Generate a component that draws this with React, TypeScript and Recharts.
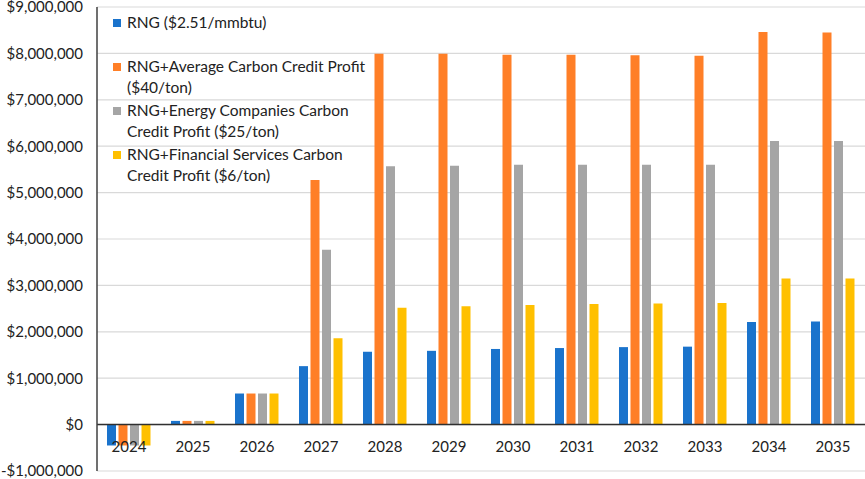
import { BarChart, Bar, XAxis, YAxis, CartesianGrid, ReferenceLine } from 'recharts'

const years = ['2024', '2025', '2026', '2027', '2028', '2029', '2030', '2031', '2032', '2033', '2034', '2035']

const rng = [-450000, 80000, 670000, 1260000, 1570000, 1590000, 1630000, 1650000, 1670000, 1680000, 2210000, 2220000]
const rngAvg = [-450000, 80000, 670000, 5270000, 7990000, 7990000, 7970000, 7970000, 7960000, 7950000, 8460000, 8450000]
const rngEnergy = [-450000, 80000, 670000, 3770000, 5570000, 5580000, 5600000, 5600000, 5600000, 5600000, 6110000, 6110000]
const rngFinance = [-450000, 80000, 670000, 1860000, 2520000, 2550000, 2580000, 2600000, 2610000, 2620000, 3150000, 3150000]

const yTicks = [-1000000, 0, 1000000, 2000000, 3000000, 4000000, 5000000, 6000000, 7000000, 8000000, 9000000]

const SERIES = [
  { key: 'rng', label: 'RNG ($2.51/mmbtu)', color: '#1a73cc' },
  { key: 'avg', label: 'RNG+Average Carbon Credit Profit ($40/ton)', color: '#ff7f27' },
  { key: 'energy', label: 'RNG+Energy Companies Carbon Credit Profit ($25/ton)', color: '#a5a5a5' },
  { key: 'finance', label: 'RNG+Financial Services Carbon Credit Profit ($6/ton)', color: '#ffc000' },
]

const data = years.map((year, i) => ({
  year,
  rng: rng[i],
  avg: rngAvg[i],
  energy: rngEnergy[i],
  finance: rngFinance[i],
}))

const FONT = 'Lato, "Open Sans", sans-serif'

function fmtMoney(v: number) {
  const s = '$' + Math.abs(v).toLocaleString('en-US')
  return v < 0 ? '-' + s : s
}

// year labels sit just under the zero line, not at the bottom of the plot
function YearTick({ x, y, payload }: any) {
  return (
    <text x={x} y={y - 19} textAnchor="middle" fill="#222" fontSize={15} fontFamily={FONT}>
      {payload.value}
    </text>
  )
}

function LegendBox() {
  return (
    <div
      style={{
        position: 'absolute',
        left: 113,
        top: 12,
        width: 266,
        fontFamily: FONT,
        fontSize: 15.5,
        color: '#222',
        lineHeight: '21px',
      }}
    >
      {SERIES.map((s) => (
        <div key={s.key} style={{ display: 'flex', alignItems: 'flex-start', minHeight: 44 }}>
          <span
            style={{
              display: 'inline-block',
              width: 8,
              height: 8,
              background: s.color,
              marginTop: 7,
              marginRight: 6,
              flexShrink: 0,
            }}
          />
          <span>{s.label}</span>
        </div>
      ))}
    </div>
  )
}

export default function App() {
  return (
    <div style={{ position: 'absolute', left: 0, top: 0, width: 865, height: 479, background: '#fff' }}>
      <BarChart
        width={865}
        height={479}
        data={data}
        margin={{ top: 7, right: 0, bottom: 0, left: 0 }}
        barGap={2.5}
        barSize={9}
      >
        <CartesianGrid vertical={false} stroke="#d9d9d9" strokeWidth={1.2} />
        <XAxis
          dataKey="year"
          height={8}
          axisLine={false}
          tickLine={false}
          tickSize={0}
          tickMargin={0}
          tick={<YearTick />}
          interval={0}
        />
        <YAxis
          domain={[-1000000, 9000000]}
          ticks={yTicks}
          width={97}
          tickSize={0}
          tickMargin={14}
          tickFormatter={fmtMoney}
          axisLine={{ stroke: '#404040', strokeWidth: 1.5 }}
          tickLine={false}
          tick={{ fill: '#222', fontSize: 15, fontFamily: FONT }}
          interval={0}
        />
        <ReferenceLine y={0} stroke="#303030" strokeWidth={1.5} />
        {SERIES.map((s) => (
          <Bar key={s.key} dataKey={s.key} name={s.label} fill={s.color} isAnimationActive={false} />
        ))}
      </BarChart>
      <LegendBox />
    </div>
  )
}
